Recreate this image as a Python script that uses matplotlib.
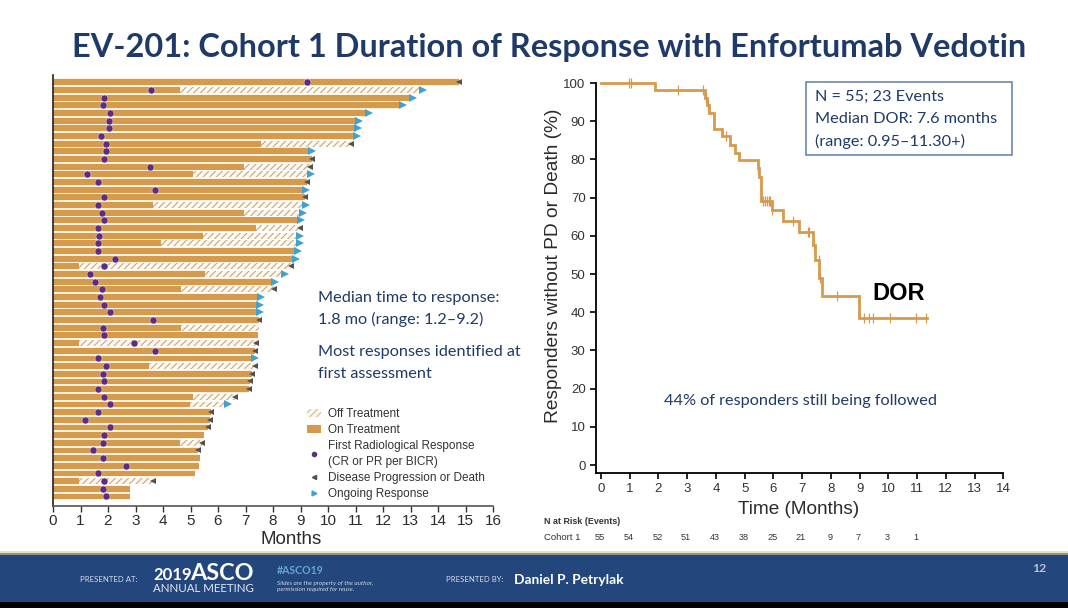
#%% Libraries
"""
EV-201 cohort 1 slide: swimmer plot on the left, DOR Kaplan-Meier on the right
"""
import numpy as np
import matplotlib
matplotlib.use('Agg')
import matplotlib.pyplot as plt
from matplotlib.patches import Patch, Rectangle
from matplotlib.lines import Line2D

plt.rcParams['font.family'] = ['Liberation Sans', 'DejaVu Sans']
plt.rcParams['hatch.linewidth'] = 0.8

#%% Data
# swimmer rows, top to bottom. off_end is nan where nothing was drawn off treatment
first_response = [9.24, 3.56, 1.87, 1.81, 2.09, 2.04, 2.04, 1.74, 1.91, 1.91,
                  1.87, 3.52, 1.22, 1.64, 3.72, 1.87, 1.64, 1.78, 1.84, 1.64,
                  1.67, 1.64, 1.64, 2.24, 1.87, 1.35, 1.51, 1.78, 1.72, 1.87,
                  2.07, 3.65, 1.81, 1.84, 2.96, 3.72, 1.62, 1.93, 1.81, 1.84,
                  1.64, 1.87, 2.09, 1.64, 1.16, 2.09, 1.87, 1.81, 1.45, 1.81,
                  2.66, 1.64, 1.87, 1.81, 1.91]
on_end = [14.75, 4.62, 13.02, 12.66, 11.40, 11.04, 11.00, 10.96, 7.55, 9.35,
          9.40, 6.93, 5.08, 9.23, 9.12, 9.18, 3.63, 6.93, 8.93, 7.39,
          5.45, 3.93, 8.84, 8.76, 0.94, 5.53, 7.99, 4.65, 7.48, 7.45,
          7.46, 7.49, 4.65, 7.45, 0.94, 7.35, 7.27, 3.49, 7.25, 7.18,
          7.12, 5.08, 4.99, 5.75, 5.72, 5.65, 5.50, 4.62, 5.28, 5.34,
          5.31, 5.15, 0.94, 2.81, 2.81]
off_end = [np.nan, 13.39, np.nan, np.nan, np.nan, np.nan, np.nan, np.nan, 10.84, np.nan,
           np.nan, 9.36, 9.30, np.nan, np.nan, np.nan, 9.11, 9.02, np.nan, 8.99,
           8.90, 8.90, np.nan, np.nan, 8.66, 8.36, np.nan, 8.03, np.nan, np.nan,
           np.nan, np.nan, 7.48, np.nan, 7.39, np.nan, np.nan, 7.33, np.nan, np.nan,
           np.nan, 6.62, 6.27, np.nan, np.nan, np.nan, np.nan, 5.42, np.nan, np.nan,
           np.nan, np.nan, 3.63, np.nan, np.nan]
# P = progression or death, O = ongoing, '' = no marker
end_status = ['P', 'O', 'O', 'O', 'O', 'O', 'O', 'O', 'P', 'O',
              'P', 'P', 'O', 'P', 'O', 'P', 'O', 'O', 'O', 'P',
              'O', 'O', 'O', 'O', 'P', 'O', 'O', 'P', 'O', 'O',
              'O', 'P', '', '', 'P', 'P', 'O', 'P', 'P', 'P',
              'P', 'P', 'O', 'P', 'P', 'P', '', 'P', 'P', '',
              '', '', 'P', '', '']

# DOR curve, step vertices
km_time = [0, 1.88, 3.62, 3.68, 3.77, 3.94, 4.20, 4.49, 4.66, 4.81, 5.45, 5.50,
           5.56, 5.94, 6.32, 6.89, 7.37, 7.45, 7.60, 7.68, 8.99, 11.33]
km_surv = [100, 98.2, 96.0, 94.2, 92.2, 88.0, 86.0, 83.8, 81.8, 79.8, 77.8, 75.5,
           69.0, 66.8, 63.9, 60.9, 57.6, 53.7, 49.0, 44.3, 38.6, 38.6]
censor_time = [0.99, 1.06, 2.69, 3.56, 3.67, 3.72, 4.35, 5.47, 5.64, 5.70, 5.77, 5.83,
               5.89, 5.94, 6.67, 7.21, 7.25, 7.42, 7.59, 7.63, 8.21, 9.15, 9.34, 9.45,
               10.06, 10.96, 11.31]
at_risk = [55, 54, 52, 51, 43, 38, 25, 21, 9, 7, 3, 1]

#%% Figure creation
W, H = 1068, 608
fig = plt.figure(figsize=(W / 100, H / 100), dpi=100, facecolor='w')
ORANGE = '#D69A4C'
NAVY = '#1F3A68'
TEXT = '#2B2B2B'
SLIDE = 'Lato'


def px_axes(left, top, right, bottom):
    return fig.add_axes([left / W, 1 - bottom / H, (right - left) / W, (bottom - top) / H])


"""
Slide background in pixel coordinates
"""
bg = fig.add_axes([0, 0, 1, 1], zorder=-1)
bg.set_xlim(0, W)
bg.set_ylim(H, 0)
bg.axis('off')
bg.add_patch(Rectangle((0, 551), W, 2, color='#E9E2C4', lw=0))
bg.add_patch(Rectangle((0, 553), W, 2, color='#8E9A80', lw=0))
bg.add_patch(Rectangle((0, 555), W, 47, color='#23467C', lw=0))
bg.add_patch(Rectangle((0, 602), W, 6, color='k', lw=0))

bg.text(72, 47, 'EV-201: Cohort 1 Duration of Response with Enfortumab Vedotin',
        family=SLIDE, weight='bold', fontsize=23.4, color=NAVY, va='center', ha='left')
bg.text(80, 579, 'PRESENTED AT:', family=SLIDE, fontsize=5.6, color='#D5DCE8', va='center')
bg.text(153, 575, '2019', family=SLIDE, weight='bold', fontsize=12, color='w', va='center')
bg.text(190, 573, 'ASCO', family=SLIDE, weight='bold', fontsize=16.8, color='w', va='center')
bg.text(153, 589, 'ANNUAL MEETING', family=SLIDE, fontsize=8.3, color='#E4E8F0', va='center')
bg.text(277, 571, '#ASCO19', family=SLIDE, weight='bold', fontsize=7.6, color='#5FA6D8', va='center')
bg.text(277, 583, 'Slides are the property of the author,', family=SLIDE, style='italic',
        fontsize=4.6, color='#C9D3E3', va='center')
bg.text(277, 590, 'permission required for reuse.', family=SLIDE, style='italic',
        fontsize=4.6, color='#C9D3E3', va='center')
bg.text(446, 579, 'PRESENTED BY:', family=SLIDE, fontsize=5.6, color='#D5DCE8', va='center')
bg.text(514, 580, 'Daniel P. Petrylak', family=SLIDE, weight='bold', fontsize=9.9, color='w', va='center')
bg.text(1032, 568, '12', family=SLIDE, weight='bold', fontsize=8.8, color='#B9C4D6', va='center')

"""
Ax settings swimmer plot
"""
ax = px_axes(53, 75, 493, 506)
rows = np.arange(len(on_end))
ax.barh(rows, on_end, height=1.0, color='#FBF1E1', lw=0, zorder=1)
ax.barh(rows, on_end, height=0.76, color=ORANGE, lw=0, zorder=2)
off_start = np.array(on_end)
off_width = np.array(off_end) - off_start
ax.barh(rows, off_width, left=off_start, height=0.76, color='#FDF8F0', edgecolor='#C4A884',
        hatch='/////', lw=0, zorder=2)
ax.plot(first_response, rows, 'o', color='#5A2D82', ms=5, mec='#FBF1E1', mew=0.3, zorder=4)

bar_end = np.where(np.isnan(off_end), on_end, off_end)
status = np.array(end_status)
ax.plot(bar_end[status == 'P'], rows[status == 'P'], '<', color='#55504C', ms=5, mew=0, zorder=3)
ax.plot(bar_end[status == 'O'] + 0.08, rows[status == 'O'], '>', color='#3FA2D3', ms=5.6, mew=0, zorder=3)

ax.set_xlim(0, 16)
ax.set_ylim(55.24, -0.95)
ax.set_xticks(range(17))
ax.set_yticks([])
ax.tick_params(axis='x', labelsize=11, length=4, width=1, color='#333333', labelcolor=TEXT, pad=2)
for side in ['top', 'right']:
    ax.spines[side].set_visible(False)
ax.spines['left'].set_color('#222222')
ax.spines['left'].set_linewidth(1.2)
ax.spines['bottom'].set_color('#555555')
ax.spines['bottom'].set_linewidth(1.2)
ax.patch.set_alpha(0)
bg.text(291, 539, 'Months', fontsize=13.5, color=TEXT, ha='center', va='center')

handles = [Patch(facecolor='#FDF8F0', edgecolor='#D8B98E', hatch='/////', lw=0),
           Patch(facecolor=ORANGE, lw=0),
           Line2D([], [], marker='o', color='#5A2D82', ls='', ms=3),
           Line2D([], [], marker='<', color='#55504C', ls='', ms=3),
           Line2D([], [], marker='>', color='#3FA2D3', ls='', ms=3.5)]
labels = ['Off Treatment', 'On Treatment', 'First Radiological Response\n(CR or PR per BICR)',
          'Disease Progression or Death', 'Ongoing Response']
leg = ax.legend(handles, labels, loc='lower left', bbox_to_anchor=(254 / 440, 6 / 431), frameon=False,
                fontsize=8.5, labelcolor='#333333', labelspacing=0.36, handlelength=1.2, handleheight=0.7,
                handletextpad=0.6, borderpad=0, borderaxespad=0)
leg.get_texts()[2].set_linespacing(1.35)

for y, txt in zip([298, 319, 352, 374], ['Median time to response:', '1.8 mo (range: 1.2\u20139.2)',
                                         'Most responses identified at', 'first assessment']):
    bg.text(318, y, txt, family=SLIDE, fontsize=11.7, color=NAVY, va='center')

"""
Ax settings DOR curve
"""
ax = px_axes(596, 83, 1003.3, 473)
ax.step(km_time, km_surv, where='post', color=ORANGE, lw=2, solid_joinstyle='miter', clip_on=False, zorder=3)
# censor ticks sit on the curve
censor_idx = np.searchsorted(km_time, censor_time, side='right') - 1
censor_surv = np.array(km_surv)[censor_idx]
ax.plot(censor_time, censor_surv, '|', color=ORANGE, ms=6.5, mew=0.9, clip_on=False, zorder=3)
ax.set_xlim(-0.174, 14)
ax.set_ylim(-2.09, 100)
ax.set_xticks(range(15))
ax.set_yticks(range(0, 101, 10))
ax.tick_params(axis='both', labelsize=9.5, length=4.5, width=1.3, color='#111111', labelcolor='#333333', pad=3)
for side in ['top', 'right']:
    ax.spines[side].set_visible(False)
ax.spines['left'].set_linewidth(1.3)
ax.spines['bottom'].set_linewidth(1.3)
ax.patch.set_alpha(0)
bg.text(553, 266, 'Responders without PD or Death (%)', fontsize=13.8, color=TEXT, rotation=90,
        ha='center', va='center')
bg.text(799, 509, 'Time (Months)', fontsize=13.7, color=TEXT, ha='center', va='center')
bg.text(899, 294, 'DOR', fontsize=17, weight='bold', color='k', ha='center', va='center')
bg.text(801, 401, '44% of responders still being followed', family=SLIDE, fontsize=11.7, color=NAVY,
        ha='center', va='center')

bg.add_patch(Rectangle((806, 82), 206, 73, fc='w', ec='#5F7FA8', lw=1.1))
for y, txt in zip([97, 119, 141], ['N = 55; 23 Events', 'Median DOR: 7.6 months', '(range: 0.95\u201311.30+)']):
    bg.text(815, y, txt, family=SLIDE, fontsize=11.7, color=NAVY, va='center', zorder=5)

bg.text(544, 522, 'N at Risk (Events)', fontsize=6.4, weight='bold', color='#333333', va='center')
bg.text(544, 538, 'Cohort 1', fontsize=6.8, color='#333333', va='center')
risk_trans = matplotlib.transforms.blended_transform_factory(ax.transData, bg.transData)
for month, n in enumerate(at_risk):
    ax.text(month - 0.04, 538, str(n), transform=risk_trans, fontsize=6.6, color='#333333',
            ha='center', va='center', clip_on=False)

"""
Figure saving
"""
fig.savefig('out.png', dpi=100, facecolor='w')
